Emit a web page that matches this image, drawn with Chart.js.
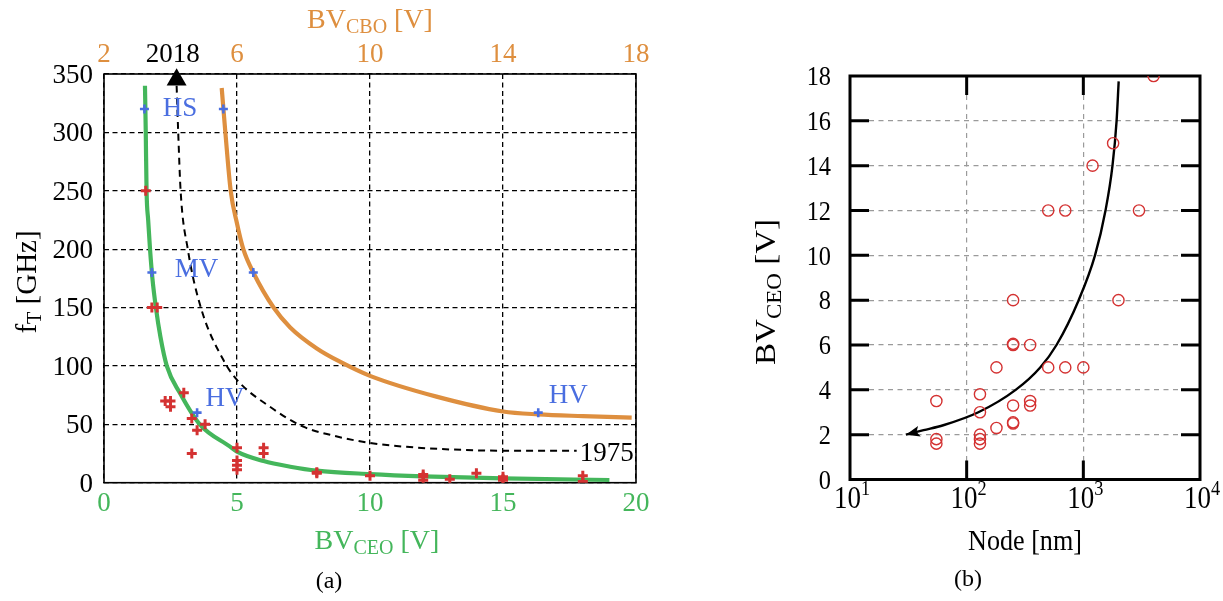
<!DOCTYPE html>
<html>
<head>
<meta charset="utf-8">
<script src="https://cdn.jsdelivr.net/npm/chart.js@4.4.0/dist/chart.umd.min.js"></script>
<style>
  html,body{margin:0;padding:0;background:#fff;}
  #wrap{position:relative;width:1223px;height:601px;background:#fff;}
  #chartA{position:absolute;left:0;top:0;}
  #chartB{position:absolute;left:660px;top:0;}
</style>
</head>
<body>
<div id="wrap">
  <canvas id="chartA" width="660" height="601"></canvas>
  <canvas id="chartB" width="563" height="601"></canvas>
</div>
<script>
// ---- (a) fT vs breakdown voltage ----
const fTicks = [0,50,100,150,200,250,300,350];
const ceoTicks = [0,5,10,15,20];
const cboTicks = [2,6,10,14,18];

// BVCEO limit curve (bottom axis)
const greenBV = [1.54,1.57,1.6,1.66,1.73,1.82,1.95,2.12,2.36,2.86,3.6,4.74,5,6,7,8,10,12,15,19];
const greenFT = [340,300,250,225,200,175,150,125,100,76.6,50,30.9,26.6,18.5,13.7,10.3,7.4,5.5,3.7,2.3];
// BVCBO limit curve (top axis)
const orangeBV = [5.54,5.65,5.81,6.0,6.19,6.49,7.1,7.6,8.4,9.14,10,12,14,15.06,16.4,17.87];
const orangeFT = [338,300,250,222,200,180,150,133,115,103,91.5,73.7,61,58.5,57,55.7];
// 1975 -> 2018 trend (bottom axis)
const trendBV = [2.73,2.79,2.88,3.15,3.64,4.49,5.0,6.24,7.49,8.5,10,11.5,13,15,17.77];
const trendFT = [340,300,250,200,150,105,88,65,48,41,34,30.5,28.5,27.4,27.4];
const arrowBV = [2.73];
const arrowFT = [345];

// HS / MV / HV devices
const blueCeoBV = [1.52,1.8,3.5];
const blueCeoFT = [320,180,60];
const blueCboBV = [5.59,6.49,15.06];
const blueCboFT = [320,180,60];

// published devices
const redBV = [1.57,1.8,2.0,2.3,2.5,2.5,3.0,3.3,3.5,3.8,3.3,5,5,5,5,6,6,8,8,10,12,12,12,13,14,15,15,15,18,18];
const redFT = [250,150,150,70,70,65,77,55,45,50,25,30,19,15,11,30,25,9,8,6,7,5,2,3,8,5,3,2,6,1];

// ---- (b) BVCEO vs node ----
const nodeTicks = [10,100,1000,10000];
const bvTicks = [0,2,4,6,8,10,12,14,16,18];
const nodeNm = [4000,1800,1200,500,700,3000,250,2000,250,250,350,180,500,700,1000,130,130,250,350,350,250,250,180,130,130,130,55,55,55];
const nodeBV = [18,15,14,12,12,12,8,8,6,6.05,6,5,5,5,5,3.8,3.0,3.3,3.5,3.3,2.5,2.55,2.3,2.0,1.8,1.6,3.5,1.8,1.6];
const trendNode = [2009,1928,1778,1549,1259,912,589,427,263,126,63,42.7,30.1];
const trendBVb = [17.76,16,14,12,10,8,6,5,4,3,2.42,2.2,2.0];

const GREEN = '#44b65b', ORANGE = '#de8f3f', BLUE = '#4a6ee0', RED = '#d43232';
const SERIF = '"Liberation Serif","DejaVu Serif",serif';

const pts = (xs, ys) => xs.map((x,i)=>({x, y:ys[i]}));

function partsWidth(ctx, parts){
  let w = 0;
  parts.forEach(p=>{ ctx.font = p[1]+'px '+SERIF; w += ctx.measureText(p[0]).width; });
  return w;
}
// parts: [text, size, baseline shift]; (cx, cy) is the visual centre of the text
function drawRich(ctx, parts, cx, cy, opt={}){
  ctx.save();
  ctx.translate(cx, cy);
  if(opt.sx) ctx.scale(opt.sx, 1);
  if(opt.rot) ctx.rotate(opt.rot);
  ctx.fillStyle = opt.color || '#000';
  ctx.textBaseline = 'alphabetic';
  const w = partsWidth(ctx, parts);
  let x = opt.align==='right' ? -w : (opt.align==='left' ? 0 : -w/2);
  const base = parts[0][1]*0.33;
  parts.forEach(p=>{
    ctx.font = p[1]+'px '+SERIF;
    ctx.fillText(p[0], x, base + (p[2]||0));
    x += ctx.measureText(p[0]).width;
  });
  ctx.restore();
}

// text placed in data units of the bottom / left axes
const notesA = [
  {t:'HS', x:2.86, y:322, c:BLUE},
  {t:'MV', x:3.48, y:184, c:BLUE},
  {t:'HV', x:4.55, y:73, c:BLUE},
  {t:'HV', x:17.45, y:76, c:BLUE},
  {t:'1975', x:18.9, y:26.6, c:'#000'},
  {t:'2018', x:2.58, y:368, c:'#000'}
];

const frameA = {
  id:'frameA',
  beforeDatasetsDraw(chart){
    const {ctx, chartArea:a} = chart;
    ctx.save();
    ctx.setLineDash([]);
    ctx.strokeStyle = '#000';
    ctx.lineWidth = 1.6;
    ctx.strokeRect(a.left, a.top, a.right-a.left, a.bottom-a.top);
    ctx.restore();
  },
  afterDraw(chart){
    const {ctx, chartArea:a, scales:{x, x2, y}} = chart;
    fTicks.forEach(v=>drawRich(ctx, [[String(v),27]], a.left-11, y.getPixelForValue(v), {align:'right'}));
    ceoTicks.forEach(v=>drawRich(ctx, [[String(v),27]], x.getPixelForValue(v), 502, {color:GREEN}));
    cboTicks.forEach(v=>drawRich(ctx, [[String(v),27]], x2.getPixelForValue(v), 53, {color:ORANGE}));
    notesA.forEach(n=>drawRich(ctx, [[n.t,27]], x.getPixelForValue(n.x), y.getPixelForValue(n.y), {color:n.c}));
    drawRich(ctx, [['BV',28],['CBO',20,5],[' [V]',28]], (a.left+a.right)/2, 19, {color:ORANGE});
    drawRich(ctx, [['BV',28],['CEO',20,5],[' [V]',28]], (a.left+a.right)/2 + 7, 540, {color:GREEN});
    drawRich(ctx, [['f',29],['T',20,5],[' [GHz]',29]], 26, 282, {rot:-Math.PI/2});
    drawRich(ctx, [['(a)',24]], 329, 580);
  }
};

const lineCurve = (data, color, width, extra={}) => Object.assign({
  data, showLine:true, pointRadius:0, borderColor:color, borderWidth:width,
  cubicInterpolationMode:'monotone', fill:false
}, extra);
const crossSet = (data, color, r, w, extra={}) => Object.assign({
  data, showLine:false, pointStyle:'cross', pointRadius:r,
  pointBorderColor:color, pointBorderWidth:w, borderColor:color
}, extra);

const dashGrid = (color, width, dash) => ({
  grid:{color, lineWidth:width, drawTicks:false},
  border:{display:false, dash}
});

new Chart(document.getElementById('chartA'), {
  type:'scatter',
  data:{datasets:[
    crossSet(pts(blueCeoBV, blueCeoFT), BLUE, 4.5, 2.6, {order:0}),
    crossSet(pts(blueCboBV, blueCboFT), BLUE, 4.5, 2.6, {order:0, xAxisID:'x2'}),
    {data:pts(arrowBV, arrowFT), pointStyle:'triangle', pointRadius:11.5, pointBackgroundColor:'#000',
     pointBorderColor:'#000', pointBorderWidth:0, showLine:false, clip:false, order:0},
    crossSet(pts(redBV, redFT), RED, 5, 3, {order:1}),
    lineCurve(pts(trendBV, trendFT), '#000', 2, {borderDash:[7,5], order:2}),
    lineCurve(pts(greenBV, greenFT), GREEN, 4.2, {order:3}),
    lineCurve(pts(orangeBV, orangeFT), ORANGE, 4.2, {order:3, xAxisID:'x2'})
  ]},
  options:{
    responsive:false, devicePixelRatio:1, animation:false, events:[],
    layout:{padding:{left:104, right:24, top:74, bottom:118.3}},
    plugins:{legend:{display:false}, tooltip:{enabled:false}},
    scales:{
      x:Object.assign({type:'linear', position:'bottom', min:0, max:20, ticks:{display:false, stepSize:5}}, dashGrid('#000',1.3,[5,3.5])),
      x2:{type:'linear', position:'top', min:2, max:18, ticks:{display:false, stepSize:4}, grid:{display:false, drawTicks:false}, border:{display:false}},
      y:Object.assign({type:'linear', min:0, max:350, ticks:{display:false, stepSize:50}}, dashGrid('#000',1.3,[5,3.5]))
    }
  },
  plugins:[frameA]
});

// ---- (b) ----
const SX = 0.87;
const frameB = {
  id:'frameB',
  beforeDatasetsDraw(chart){
    const {ctx, chartArea:a, scales:{x, y}} = chart;
    ctx.save();
    ctx.setLineDash([]);
    ctx.strokeStyle = '#000';
    ctx.lineWidth = 3;
    ctx.beginPath();
    bvTicks.slice(1,-1).forEach(v=>{
      const py = y.getPixelForValue(v);
      ctx.moveTo(a.left, py); ctx.lineTo(a.left+19, py);
      ctx.moveTo(a.right, py); ctx.lineTo(a.right-19, py);
    });
    nodeTicks.slice(1,-1).forEach(v=>{
      const px = x.getPixelForValue(v);
      ctx.moveTo(px, a.bottom); ctx.lineTo(px, a.bottom-19);
      ctx.moveTo(px, a.top); ctx.lineTo(px, a.top+19);
    });
    ctx.stroke();
    ctx.strokeRect(a.left, a.top, a.right-a.left, a.bottom-a.top);
    ctx.restore();
  },
  afterDatasetsDraw(chart){
    // arrow head at the small-node end of the trend curve
    const meta = chart.getDatasetMeta(1);
    const els = meta.data;
    const tip = els[els.length-1];
    const prev = els[els.length-2];
    const bx = tip.cp1x !== undefined ? tip.cp1x : prev.x;
    const by = tip.cp1y !== undefined ? tip.cp1y : prev.y;
    const ang = Math.atan2(tip.y-by, tip.x-bx);
    const ctx = chart.ctx;
    ctx.save();
    ctx.translate(tip.x, tip.y);
    ctx.rotate(ang);
    ctx.fillStyle = '#000';
    ctx.beginPath();
    ctx.moveTo(0,0); ctx.lineTo(-14,-5.5); ctx.lineTo(-11,0); ctx.lineTo(-14,5.5);
    ctx.closePath(); ctx.fill();
    ctx.restore();
  },
  afterDraw(chart){
    const {ctx, chartArea:a, scales:{x, y}} = chart;
    bvTicks.forEach(v=>drawRich(ctx, [[String(v),28]], a.left-19, y.getPixelForValue(v), {align:'right', sx:SX}));
    nodeTicks.forEach(v=>drawRich(ctx, [['10',31],[String(Math.round(Math.log10(v))),21,-13]], x.getPixelForValue(v)+2, 498, {sx:SX}));
    drawRich(ctx, [['Node [nm]',30]], (a.left+a.right)/2, 540, {sx:SX});
    drawRich(ctx, [['BV',33],['CEO',23,6],[' [V]',33]], 106, 292, {rot:-Math.PI/2, sx:SX});
    drawRich(ctx, [['(b)',24]], 308, 578);
  }
};

new Chart(document.getElementById('chartB'), {
  type:'scatter',
  data:{datasets:[
    {data:pts(nodeNm, nodeBV), showLine:false, pointStyle:'circle', pointRadius:5.6,
     pointBorderColor:RED, pointBorderWidth:1.4, pointBackgroundColor:'rgba(0,0,0,0)', order:0},
    lineCurve(pts(trendNode, trendBVb), '#000', 2.4, {order:1})
  ]},
  options:{
    responsive:false, devicePixelRatio:1, animation:false, events:[],
    layout:{padding:{left:190, right:23, top:76, bottom:121.5}},
    plugins:{legend:{display:false}, tooltip:{enabled:false}},
    scales:{
      x:Object.assign({type:'logarithmic', min:10, max:10000, ticks:{display:false},
        afterBuildTicks:s=>{ s.ticks = nodeTicks.map(v=>({value:v})); }}, dashGrid('#9a9a9a',1.2,[5,4.5])),
      y:Object.assign({type:'linear', min:0, max:18, ticks:{display:false, stepSize:2}}, dashGrid('#9a9a9a',1.2,[5,4.5]))
    }
  },
  plugins:[frameB]
});
</script>
</body>
</html>
